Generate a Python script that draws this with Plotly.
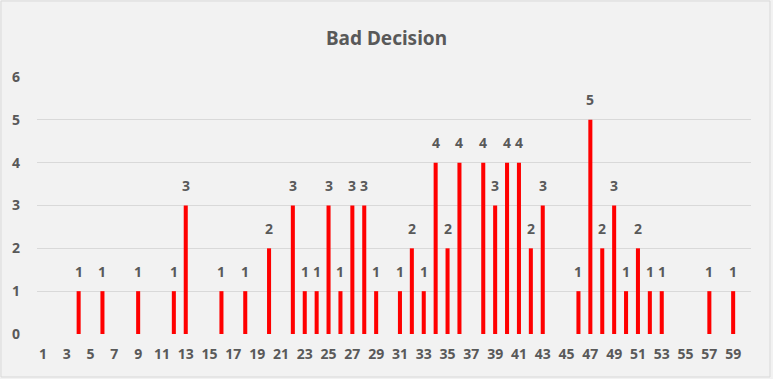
import plotly.graph_objects as go

categories = [4, 6, 9, 12, 13, 16, 18, 20, 22, 23, 24, 25, 26, 27, 28, 29, 31, 32, 33, 34, 35, 36,
              38, 39, 40, 41, 42, 43, 46, 47, 48, 49, 50, 51, 52, 53, 57, 59]
values = [1, 1, 1, 1, 3, 1, 1, 2, 3, 1, 1, 3, 1, 3, 3, 1, 1, 2, 1, 4, 2, 4,
          4, 3, 4, 4, 2, 3, 1, 5, 2, 3, 1, 2, 1, 1, 1, 1]
x_ticks = list(range(1, 60, 2))
y_ticks = [0, 1, 2, 3, 4, 5, 6]

W, H = 773, 379
L, R, T, B = 37, 22, 77, 45
pw, ph = W - L - R, H - T - B

grey = "#595959"
font_family = "Noto Sans, Open Sans, sans-serif"

fig = go.Figure(go.Bar(
    x=categories, y=values, width=0.34,
    marker=dict(color="#ff0000", line=dict(width=0)),
    hoverinfo="x+y",
))

annotations = [
    dict(x=c, y=v, xref="x", yref="y", text=str(v), showarrow=False,
         xanchor="center", yanchor="middle", yshift=20,
         font=dict(size=14, color=grey, family=font_family, weight="bold"))
    for c, v in zip(categories, values)
]

fig.update_layout(
    width=W, height=H,
    margin=dict(l=L, r=R, t=T, b=B, autoexpand=False),
    paper_bgcolor="#f2f2f2", plot_bgcolor="#f2f2f2",
    showlegend=False,
    title=dict(text="Bad Decision", x=0.5, xanchor="center", y=1 - 38 / H, yanchor="middle",
               font=dict(size=19, color=grey, family=font_family, weight="bold")),
    xaxis=dict(range=[0.5, 60.5], tickmode="array", tickvals=x_ticks,
               ticktext=[str(v) for v in x_ticks], showgrid=False, zeroline=False,
               showline=False, ticks="", ticklabelstandoff=10,
               tickfont=dict(size=14, color=grey, family=font_family, weight="bold")),
    yaxis=dict(range=[0, 6], tickmode="array", tickvals=y_ticks, showgrid=True,
               gridcolor="#d9d9d9", gridwidth=1, zeroline=False, showline=False,
               ticks="", ticklabelstandoff=16,
               tickfont=dict(size=14, color=grey, family=font_family, weight="bold")),
    annotations=annotations,
    shapes=[dict(type="rect", xref="paper", yref="paper",
                 x0=(1 - L) / pw, x1=(770 - L) / pw,
                 y0=(H - B - 377) / ph, y1=(H - B - 1) / ph,
                 line=dict(color="#d9d9d9", width=1), fillcolor="rgba(0,0,0,0)", layer="below")],
)

fig.write_html("out.html", config={"displayModeBar": False},
               post_script="document.body.style.margin='0';")
